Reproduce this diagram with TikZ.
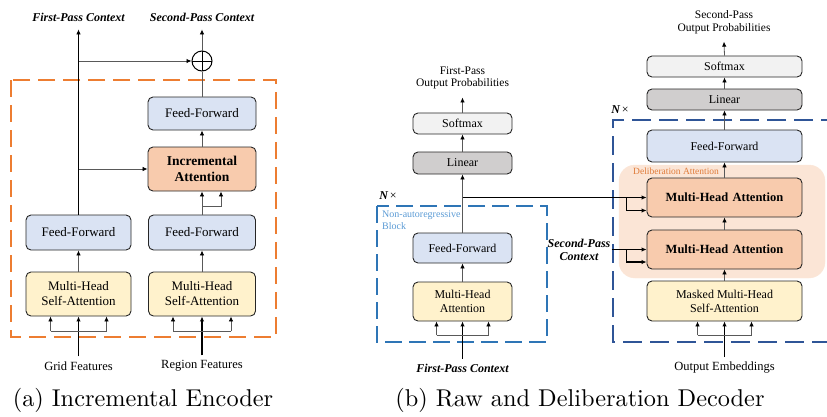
\documentclass[tikz,border=0pt]{standalone}
\usepackage{fontspec}
\newfontfamily\tnr{Liberation Serif}
\usetikzlibrary{arrows.meta,calc}
\definecolor{ffblue}{HTML}{DAE3F3}
\definecolor{mhyellow}{HTML}{FFF2CC}
\definecolor{attorange}{HTML}{F8CBAD}
\definecolor{smgray}{HTML}{F2F2F2}
\definecolor{lingray}{HTML}{D0CECE}
\definecolor{linegray}{HTML}{595959}
\definecolor{dashorange}{HTML}{ED7D31}
\definecolor{dashblue}{HTML}{2E75B6}
\definecolor{dashdark}{HTML}{2F5597}
\definecolor{delibfill}{HTML}{FBE5D6}
\definecolor{delibtext}{HTML}{E07B39}
\definecolor{narblue}{HTML}{5B9BD5}
\definecolor{boxline}{HTML}{262626}
\newcommand\myfanin[3]{%
  \draw[ln] (#1.south) ++(-#2,#3) -- ++(2*#2,0);
  \draw[arr] (#1.south) ++(-#2,#3) -- ++(0,-#3);
  \draw[arr] (#1.south) ++(#2,#3) -- ++(0,-#3);}
\begin{document}
\begin{tikzpicture}[x=1pt,y=-1pt,
  box/.style={draw=boxline, line width=0.9pt, rounded corners=5pt, align=center, inner sep=0pt, font=\tnr\fontsize{13}{15}\selectfont},
  boxb/.style={box, font=\tnr\fontsize{12}{14}\selectfont},
  wh/.style 2 args={minimum width=#1pt, minimum height=#2pt},
  ff/.style={fill=ffblue},
  mh/.style={fill=mhyellow},
  att/.style={fill=attorange},
  sm/.style={fill=smgray},
  lin/.style={fill=lingray},
  arr/.style={draw=linegray, line width=0.8pt, -{Latex[length=5pt,width=4.5pt,color=black]}},
  barr/.style={arr, draw=black, line width=1.1pt},
  inarr/.style={arr, draw=black, line width=1.5pt},
  ln/.style={draw=linegray, line width=0.8pt},
  ctxlab/.style={font=\tnr\bfseries\itshape\fontsize{12}{13}\selectfont, align=center, inner sep=1pt},
  lab/.style={font=\tnr\fontsize{12.5}{13}\selectfont, align=center, inner sep=1pt},
  olab/.style={font=\tnr\fontsize{11.5}{12.5}\selectfont, align=center, inner sep=1pt},
  captxt/.style={font=\fontsize{10}{12}\selectfont, inner sep=0pt, scale=2.43},
]
\useasboundingbox (0,0) rectangle (827,416);

% ---------------- Panel (a) ----------------
\draw[dashorange, line width=2pt, dash pattern=on 17pt off 8pt] (11,80) rectangle (276,337);

\node[box, ff, wh={108}{33}] (ffR) at (202,113.5) {Feed-Forward};
\node[box, att, wh={108}{44}, font=\tnr\bfseries\fontsize{13.5}{16.5}\selectfont] (ia) at (202,169) {Incremental\\Attention};
\node[box, ff, wh={105}{35}] (ffL) at (78.5,232.5) {Feed-Forward};
\node[box, mh, wh={105}{44}] (mhL) at (78.5,294) {Multi-Head\\Self-Attention};
\node[box, ff, wh={107}{35}] (ffR2) at (202,232.5) {Feed-Forward};
\node[box, mh, wh={107}{44}] (mhR) at (202,294) {Multi-Head\\Self-Attention};

\node[circle, draw=black, line width=1pt, minimum size=20pt, inner sep=0pt,
  path picture={\draw[line width=1pt] (path picture bounding box.north) -- (path picture bounding box.south)
  (path picture bounding box.west) -- (path picture bounding box.east);}] (plus) at (202,61) {};

\node[ctxlab] (ctx1) at (78.5,17) {First-Pass Context};
\node[ctxlab] (ctx2) at (202,17) {Second-Pass Context};
\node[lab] (grid) at (78.5,366) {Grid Features};
\node[lab] (region) at (202,366) {Region Features};

\draw[arr, draw=black] (ffL.north) -- ([yshift=-7pt]ctx1.south);
\draw[arr] (ffL.north |- plus) -- (plus.west);
\draw[arr] (ffL.north |- ia) -- (ia.west);
\draw[ln] (ffR.north) -- (plus.south);
\draw[arr] (plus.north) -- ([yshift=-7pt]ctx2.south);
\draw[arr] (ia.north) -- (ffR.south);
\draw[arr] (ffR2.north) -- (ia.south);
\draw[arr] (ffR2.north) ++(0,-8) -| ([xshift=19pt]ia.south);
\draw[arr] (mhL) -- (ffL);
\draw[arr] (mhR) -- (ffR2);
\draw[inarr] ([yshift=4pt]grid.north) -- (mhL.south);
\myfanin{mhL}{28}{15}
\draw[inarr] ([yshift=4pt]region.north) -- (mhR.south);
\myfanin{mhR}{29}{15}

\node[captxt] (capa) at (143,400) {(a) Incremental Encoder};

% ---------------- Panel (b) left ----------------
\draw[dashblue, line width=1.6pt, dash pattern=on 17pt off 7pt] (377,206) rectangle (547,342);
\node[anchor=north west, font=\tnr\fontsize{10}{11.5}\selectfont, text=narblue, align=left, inner sep=0pt] (nar) at (382,211) {Non-autoregressive\\Block};
\node[inner sep=0pt] (nx1) at (388,196) {{\tnr\bfseries\itshape\fontsize{12}{14}\selectfont N}\,{\tnr\fontsize{12}{14}\selectfont ×}};

\node[olab] (fpo) at (462.5,78) {First-Pass\\Output Probabilities};
\node[box, boxb, sm, wh={99}{21}] (sm1) at (462.5,123.5) {Softmax};
\node[box, boxb, lin, wh={99}{22}] (lin1) at (462.5,163) {Linear};
\node[box, boxb, ff, wh={99}{30}] (ff1) at (462.5,248) {Feed-Forward};
\node[box, boxb, mh, wh={99}{39}] (mha1) at (462.5,301.5) {Multi-Head\\Attention};
\node[ctxlab] (fpc) at (462.5,368) {First-Pass Context};

\draw[inarr] ([yshift=4pt]fpc.north) -- (mha1.south);
\myfanin{mha1}{26}{14}
\draw[arr] (mha1) -- (ff1);
\draw[arr] (ff1) -- (lin1);
\draw[arr] (lin1) -- (sm1);
\draw[arr] (sm1.north) -- ([yshift=-7pt]fpo.south);

% ---------------- Panel (b) right ----------------
\draw[delibfill, fill=delibfill, rounded corners=16pt] (619,165) rectangle (825,278);
\draw[dashdark, line width=1.6pt, dash pattern=on 19pt off 8pt] (840,120) -- (613,120) -- (613,342) -- (840,342);
\node[anchor=west, font=\tnr\fontsize{9.5}{11}\selectfont, text=delibtext, inner sep=0pt] (dlab) at (633,171) {Deliberation Attention};
\node[inner sep=0pt] (nx2) at (620,110) {{\tnr\bfseries\itshape\fontsize{12}{14}\selectfont N}\,{\tnr\fontsize{12}{14}\selectfont ×}};

\node[olab] (spo) at (724,22) {Second-Pass\\Output Probabilities};
\node[box, boxb, sm, wh={155}{21}] (sm2) at (724.5,66.5) {Softmax};
\node[box, boxb, lin, wh={155}{21}] (lin2) at (724.5,99.5) {Linear};
\node[box, boxb, ff, wh={155}{32}] (ffD) at (724.5,146) {Feed-Forward};
\node[box, boxb, att, wh={155}{39}, font=\tnr\bfseries\fontsize{12.5}{14}\selectfont] (mhaA) at (724.5,197.5) {Multi-Head\hspace{0.35em}Attention};
\node[box, boxb, att, wh={155}{39}, font=\tnr\bfseries\fontsize{12.5}{14}\selectfont] (mhaB) at (724.5,249.5) {Multi-Head\hspace{0.35em}Attention};
\node[box, boxb, mh, wh={155}{40}] (mmh) at (724.5,301) {Masked Multi-Head\\Self-Attention};
\node[lab] (oe) at (724.5,368) {Output Embeddings};
\node[ctxlab] (spc) at (579,249.5) {Second-Pass\\Context};

\draw[inarr] ([yshift=4pt]oe.north) -- (mmh.south);
\myfanin{mmh}{27}{14}
\draw[arr] (mmh) -- (mhaB);
\draw[arr] (mhaB) -- (mhaA);
\draw[arr] (mhaA) -- (ffD);
\draw[arr] (ffD) -- (lin2);
\draw[arr] (lin2) -- (sm2);
\draw[arr] (sm2.north) -- ([yshift=-7pt]spo.south);

\draw[barr] (ff1.north |- mhaA) -- (mhaA.west);
\draw[barr] ([xshift=-20pt]mhaA.west) |- ([yshift=-13pt]mhaA.west);
\draw[barr] (spc.east |- mhaB) -- (mhaB.west);
\draw[barr] ([xshift=-20pt]mhaB.west) |- ([yshift=-12.5pt]mhaB.west);

\node[captxt] (capb) at (580,400) {(b) Raw and Deliberation Decoder};
\end{tikzpicture}
\end{document}
